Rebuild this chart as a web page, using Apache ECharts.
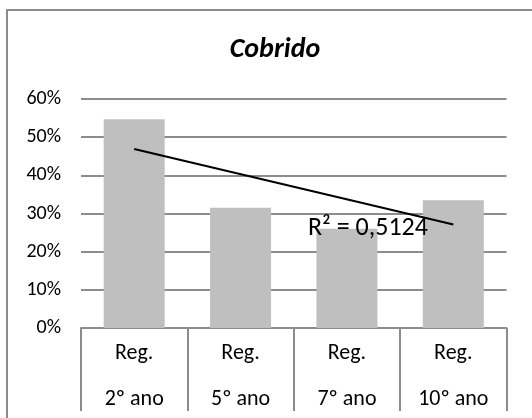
<!DOCTYPE html>
<html>
<head>
<meta charset="utf-8">
<script src="https://cdn.jsdelivr.net/npm/echarts@6/dist/echarts.min.js"></script>
<style>
html,body{margin:0;padding:0;background:#fff;}
#chart{width:532px;height:418px;}
</style>
</head>
<body>
<div id="chart"></div>
<script>
var chartTitle = 'Cobrido';
var categories = ['Reg.\n2º ano', 'Reg.\n5º ano', 'Reg.\n7º ano', 'Reg.\n10º ano'];
var values = [54.7, 31.5, 26.0, 33.5];
var trendValues = [46.9, null, null, 27.1];
var r2Label = 'R² = 0,5124';
var yTicks = [0, 10, 20, 30, 40, 50, 60];

var FONT = "Carlito, 'Open Sans', sans-serif";
var chart = echarts.init(document.getElementById('chart'), null, {renderer: 'canvas'});
chart.setOption({
  animation: false,
  backgroundColor: '#ffffff',
  title: {
    text: chartTitle,
    left: 270,
    top: 31,
    textAlign: 'center',
    textStyle: {fontFamily: FONT, fontSize: 28, fontWeight: 'bold', fontStyle: 'italic', color: '#000'}
  },
  grid: {left: 81, right: 25.5, top: 99, bottom: 90, containLabel: false, outerBoundsMode: 'none'},
  xAxis: {
    type: 'category',
    data: categories,
    boundaryGap: true,
    axisLine: {show: true, lineStyle: {color: '#8c8c8c', width: 2}},
    axisTick: {show: true, interval: 0, length: 83, alignWithLabel: false, lineStyle: {color: '#8c8c8c', width: 2}},
    axisLabel: {interval: 0, margin: 2, lineHeight: 46, fontFamily: FONT, fontSize: 22, color: '#000'}
  },
  yAxis: {
    type: 'value',
    min: yTicks[0],
    max: yTicks[yTicks.length - 1],
    interval: 10,
    axisLine: {show: false},
    axisTick: {show: false},
    axisLabel: {margin: 20, fontFamily: FONT, fontSize: 20, color: '#000', formatter: function (v) { return v + '%'; }},
    splitLine: {show: true, lineStyle: {color: '#8c8c8c', width: 2}}
  },
  series: [
    {
      type: 'bar',
      data: values,
      barWidth: 61,
      itemStyle: {color: '#bfbfbf'},
      z: 2
    },
    {
      type: 'line',
      data: trendValues,
      connectNulls: true,
      showSymbol: false,
      symbol: 'none',
      lineStyle: {color: '#000', width: 2},
      z: 3
    }
  ],
  graphic: [
    {
      type: 'polyline',
      shape: {points: [[7, 418], [7, 10], [532, 10]]},
      style: {stroke: '#8c8c8c', lineWidth: 2, fill: null},
      z: 10
    },
    {
      type: 'text',
      left: 308,
      top: 215,
      style: {text: r2Label, fontFamily: FONT, fontSize: 26, fill: '#000'},
      z: 10
    }
  ]
});
</script>
</body>
</html>
